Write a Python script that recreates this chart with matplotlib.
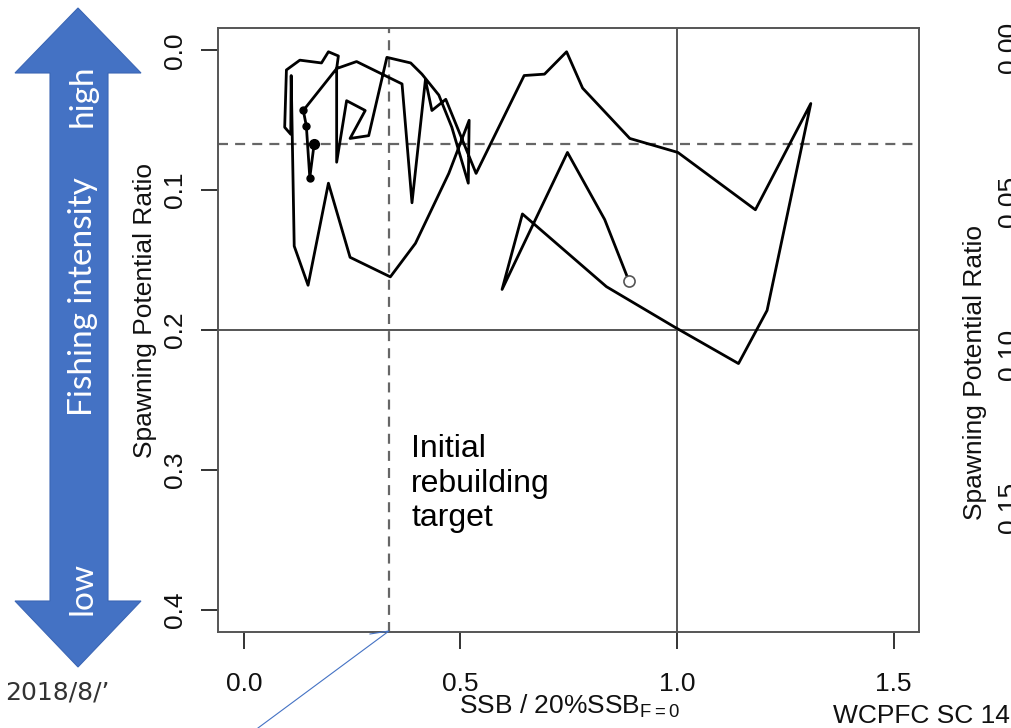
import matplotlib
matplotlib.use("Agg")
import matplotlib.pyplot as plt
from matplotlib.patches import Polygon
from matplotlib.lines import Line2D

plt.rcParams["font.family"] = ["Liberation Sans", "DejaVu Sans"]
plt.rcParams["mathtext.fontset"] = "custom"
plt.rcParams["mathtext.rm"] = "Liberation Sans"

# trajectory (SSB ratio, SPR), first point = open circle
ssb = [0.889, 0.833, 0.747, 0.596, 0.643, 0.837, 0.995, 1.142, 1.208, 1.309,
       1.181, 1.002, 0.891, 0.782, 0.745, 0.694, 0.647, 0.536, 0.466, 0.434,
       0.419, 0.388, 0.365, 0.260, 0.214, 0.214, 0.237, 0.280, 0.245, 0.288,
       0.330, 0.385, 0.411, 0.450, 0.480, 0.518, 0.520, 0.473, 0.396, 0.338,
       0.245, 0.195, 0.148, 0.116, 0.109, 0.108, 0.094, 0.098, 0.129, 0.179,
       0.195, 0.218, 0.214, 0.137, 0.144, 0.152, 0.162]
spr = [0.165, 0.121, 0.073, 0.171, 0.117, 0.169, 0.198, 0.224, 0.186, 0.038,
       0.114, 0.073, 0.063, 0.027, 0.001, 0.017, 0.018, 0.088, 0.035, 0.043,
       0.021, 0.109, 0.024, 0.008, 0.013, 0.080, 0.036, 0.043, 0.063, 0.061,
       0.005, 0.009, 0.017, 0.032, 0.055, 0.095, 0.050, 0.088, 0.138, 0.162,
       0.148, 0.095, 0.168, 0.140, 0.018, 0.060, 0.055, 0.014, 0.007, 0.009,
       0.001, 0.004, 0.013, 0.043, 0.054, 0.091, 0.067]
n_last = 4  # last years drawn with points

ssb_ref = 1.0
spr_ref = 0.2
ssb_target = 0.335
spr_target = 0.067

xticks = [0.0, 0.5, 1.0, 1.5]
xticklabels = ["0.0", "0.5", "1.0", "1.5"]
yticks = [0.0, 0.1, 0.2, 0.3, 0.4]
yticklabels = ["0.0", "0.1", "0.2", "0.3", "0.4"]
yticks2 = [0.0, 0.05, 0.10, 0.15]
yticklabels2 = ["0.00", "0.05", "0.10", "0.15"]

W, H = 1011, 728


def fx(px):
    return px / W


def fy(py):
    return 1 - py / H


fig = plt.figure(figsize=(W / 100, H / 100), dpi=100)

# blue double arrow on the left
arrow_px = [(78, 8), (141, 73), (108, 73), (108, 601), (141, 601), (78, 667),
            (15, 601), (50, 601), (50, 73), (15, 73)]
fig.add_artist(Polygon([(fx(x), fy(y)) for x, y in arrow_px], closed=True,
                       transform=fig.transFigure, facecolor="#4472C4",
                       edgecolor="#3b66b5", lw=0.8))
for txt, ypx in [("high", 96), ("Fishing intensity", 297), ("low", 588)]:
    fig.text(fx(83), fy(ypx), txt, rotation=90, color="white", fontsize=24,
             family=["Lato", "DejaVu Sans"], ha="center", va="center")

# main panel
ax = fig.add_axes([fx(218), fy(632), (919.5 - 218) / W, (632 - 28) / H])
ax.axvline(ssb_ref, color="#555555", lw=1.4, zorder=1)
ax.axhline(spr_ref, color="#555555", lw=1.4, zorder=1)
ax.axvline(ssb_target, color="#666666", lw=1.6, ls=(0, (4.5, 3.2)), zorder=1)
ax.axhline(spr_target, color="#666666", lw=1.6, ls=(0, (4.5, 3.2)), zorder=1)

ax.plot(ssb, spr, color="black", lw=2.0, solid_joinstyle="round", zorder=3)
ax.plot(ssb[-n_last:], spr[-n_last:], "o", color="black", ms=5, zorder=4)
ax.plot(ssb[-1], spr[-1], "o", color="black", ms=7, zorder=4)
ax.plot(ssb[0], spr[0], "o", mfc="white", mec="#555555", mew=1.2, ms=8, zorder=4)

ax.set_xlim(-0.06, 1.56)
ax.set_ylim(0.416, -0.016)
ax.set_xticks(xticks, labels=xticklabels)
ax.set_yticks(yticks, labels=yticklabels, rotation=90, va="center")
ax.tick_params(direction="out", length=12.2, width=1.4, color="#333333",
               labelsize=19, labelcolor="#111111")
ax.tick_params(axis="x", pad=16.5)
ax.tick_params(axis="y", pad=10.4)
for sp in ax.spines.values():
    sp.set_color("#555555")
    sp.set_linewidth(1.4)

fig.text(fx(145), fy(310), "Spawning Potential Ratio", rotation=90,
         fontsize=19, ha="center", va="center", color="#111111")
fig.text(fx(570), fy(713), r"SSB / 20%SSB$_{\mathrm{F=0}}$", fontsize=19,
         ha="center", va="baseline", color="#111111")

fig.text(fx(411), fy(434), "Initial\nrebuilding\ntarget", fontsize=23,
         ha="left", va="top", color="black")

# second panel, mostly cut off at the right edge (as in the slide)
ax2 = fig.add_axes([fx(1052.5), fy(632), 0.3, (632 - 28) / H])
ax2.set_frame_on(False)
ax2.set_xticks([])
ax2.set_ylim(0.1908, -0.0065)
ax2.set_yticks(yticks2, labels=yticklabels2, rotation=90, va="center")
ax2.tick_params(axis="y", length=12.2, pad=10.4, labelsize=19, labelcolor="#111111")
fig.text(fx(975), fy(373), "Spawning Potential Ratio", rotation=90,
         fontsize=19, ha="center", va="center", color="#111111")

# callout line
cx = [370, 389, 258]
cy = [634, 631, 728]
fig.add_artist(Line2D([fx(x) for x in cx], [fy(y) for y in cy],
                      transform=fig.transFigure, color="#4472C4", lw=0.8))

# footer
fig.text(fx(5), fy(700), "2018/8/\u2019", family="DejaVu Sans", fontsize=18,
         color="#333333", va="baseline")
fig.text(fx(833), fy(723), "WCPFC SC 14", fontsize=19, va="baseline", color="#111111")

fig.savefig("out.png", dpi=100)
